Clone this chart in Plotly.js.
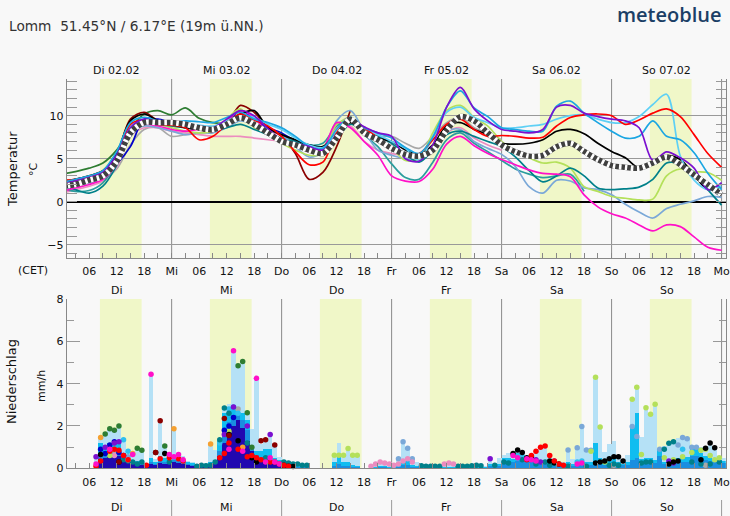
<!DOCTYPE html>
<html><head><meta charset="utf-8">
<script src="https://cdn.plot.ly/plotly-3.0.1.min.js"></script>
<style>html,body{margin:0;padding:0;background:#f8f8f8;}#chart{width:730px;height:516px;}</style>
</head><body><div id="chart"></div>
<script>
// ---------- labels ----------
const dayNames = ['Di','Mi','Do','Fr','Sa','So','Mo'];
const dayHeads = ['Di 02.02','Mi 03.02','Do 04.02','Fr 05.02','Sa 06.02','So 07.02'];
const titleText = 'Lomm\u00a0\u00a051.45°N / 6.17°E (19m ü.NN.)';

// ---------- temperature (°C), every 3 h from Di 00:00 ----------
const tMean = [1.8,2.0,2.5,3.0,4.7,8.0,9.2,9.2, 9.2,9.0,8.6,8.4,9.0,9.75,9.0,8.0, 7.0,6.6,6.0,5.6,7.4,9.6,8.0,7.2, 6.2,5.5,5.3,6.0,8.3,9.9,9.4,8.0, 6.6,5.8,5.3,5.4,6.4,6.8,5.85,4.9, 4.2,4.0,3.9,4.5,5.2,4.3,3.1,2.0, 0.8];
const tRed = [2.4,2.6,2.9,3.4,5.2,9.0,9.5,9.0, 8.9,8.6,7.2,7.6,9.0,10.2,9.5,8.8, 7.6,5.8,4.3,4.6,8.0,9.6,8.6,7.4, 6.2,5.5,5.6,7.2,9.0,9.6,8.4,7.6, 7.7,7.6,7.4,7.5,8.8,9.8,10.1,10.2, 10.0,9.0,9.5,10.3,10.8,9.9,7.8,5.6, 4.0];
const tPurple = [2.0,2.4,2.8,3.4,5.4,8.6,9.6,9.3, 9.1,9.0,8.8,8.6,9.6,10.6,10.0,8.5, 7.2,6.8,6.4,6.0,7.8,9.5,8.7,8.0, 7.6,5.0,4.7,6.6,11.0,13.3,10.8,9.4, 8.4,8.2,8.0,8.4,11.0,11.2,10.3,9.9, 9.6,9.4,8.6,4.8,5.8,5.1,3.9,1.4, 2.2];
const tSky = [2.2,2.6,3.0,3.6,5.8,9.2,9.8,9.4, 9.2,9.4,9.3,9.2,9.8,10.4,9.6,9.2, 8.6,7.6,6.4,6.2,8.4,9.8,8.6,8.0, 7.4,6.3,5.6,7.5,11.0,12.9,10.9,9.9, 8.6,8.4,8.2,8.2,11.1,11.7,10.3,9.2, 8.2,7.4,7.6,9.4,7.6,7.2,5.7,3.3, 1.4];
const tLightCyan = [1.6,2.0,2.5,3.2,5.0,8.8,9.4,9.2, 9.3,9.1,8.9,8.8,9.4,10.0,9.8,9.0, 8.4,7.4,6.6,6.3,8.0,9.4,8.6,7.8, 7.0,6.2,4.8,7.6,10.4,11.0,9.8,9.2, 8.6,8.6,8.8,9.0,9.6,10.0,10.1,9.6, 9.2,9.2,9.9,11.3,12.5,5.3,2.5,1.4, 1.8];
const tBlack = [2.2,2.6,3.0,3.6,5.6,9.4,10.2,9.4, 9.0,8.6,8.4,8.2,9.2,10.2,10.6,8.6, 7.8,7.2,6.6,6.4,8.0,9.2,8.2,7.4, 7.0,6.0,5.5,6.6,8.8,9.2,8.4,7.8, 6.8,6.7,6.8,7.2,8.2,8.4,7.9,6.8, 5.85,5.1,3.9,4.3,5.35,4.9,3.1,1.4, 1.8];
const tTeal = [2.0,1.4,1.0,1.8,4.2,7.6,9.0,9.0, 8.8,8.6,8.4,8.2,8.6,9.0,8.4,7.8, 7.2,7.0,6.6,6.4,7.4,9.0,8.2,7.6, 6.8,5.5,4.6,6.0,7.8,8.2,7.6,7.0, 6.4,5.2,3.6,2.3,3.0,3.9,3.0,1.6, 1.4,1.5,1.7,2.6,4.5,4.4,3.4,1.4, -0.4];
const tMagenta = [1.2,1.6,2.0,2.6,4.4,8.2,9.0,8.8, 8.4,8.2,8.4,8.2,9.4,10.6,9.8,8.0, 7.2,6.6,5.8,6.2,9.2,8.6,7.0,5.4, 3.0,2.4,2.35,3.8,6.7,7.6,6.5,5.6, 4.9,4.3,3.7,3.3,3.2,2.9,0.8,-0.6, -1.4,-1.9,-2.7,-3.4,-2.7,-2.9,-4.1,-5.3, -5.65];
const tSteel = [1.4,1.8,2.2,2.8,4.6,8.0,8.8,8.6, 8.2,7.8,8.0,8.0,8.6,9.4,9.0,8.4, 7.8,6.4,5.2,5.8,9.4,10.6,8.2,6.0, 5.4,5.0,5.0,6.4,8.2,8.4,7.0,6.2, 5.5,4.1,1.75,1.0,2.5,2.4,1.6,1.4, 0.8,-0.3,-1.2,-1.9,-0.8,-0.3,0.1,0.6, 0.5];
const tYellowGreen = [1.6,2.0,2.4,2.8,4.6,8.4,9.2,9.0, 8.6,8.2,8.0,8.2,9.6,10.8,8.6,7.8, 6.8,6.0,5.4,5.6,9.0,9.6,8.0,7.0, 6.2,4.8,5.0,8.0,10.6,11.2,9.8,8.8, 7.0,5.85,5.1,4.5,4.6,3.9,1.75,1.2, 0.6,0.4,0.2,0.3,3.0,3.8,3.5,3.4, 2.5];
const tTeal2 = [1.6,1.2,1.3,2.2,4.6,8.0,9.0,9.2, 9.0,8.6,8.4,8.4,9.2,9.6,8.8,8.0, 7.4,7.2,6.6,6.8,8.8,9.4,7.8,6.4, 4.4,2.8,2.6,4.6,7.2,8.0,6.8,5.8, 4.8,3.8,3.2,2.8,3.0,3.2,1.2,null, null,null,null,null,null,null,null,null, null];
const tPink = [1.0,1.4,1.8,2.4,4.0,7.6,8.6,8.6, 8.2,8.0,7.8,7.6,7.6,7.6,7.4,7.2, 7.0,6.4,6.0,6.2,8.6,8.8,7.0,6.0, 5.6,5.4,5.2,6.0,8.0,8.6,7.4,6.6, 6.0,null,null,null,null,null,null,null, null,null,null,null,null,null,null,null, null];
const tGray = [1.4,1.8,2.2,2.6,3.8,6.6,8.4,8.6, 7.6,7.8,8.0,8.4,9.0,9.6,8.8,8.4, 7.8,6.8,6.0,6.0,8.8,9.8,8.4,7.6, 7.6,6.8,6.2,7.6,9.2,9.8,8.6,8.0, 7.2,null,null,null,null,null,null,null, null,null,null,null,null,null,null,null, null];
const tDarkGreen = [3.2,3.5,3.9,4.5,6.0,8.4,10.2,10.6, 10.1,10.9,9.7,9.2,9.2,10.0,9.0,8.4, 7.8,6.9,6.4,null,null,null,null,null, null,null,null,null,null,null,null,null, null,null,null,null,null,null,null,null, null,null,null,null,null,null,null,null, null];
const tDarkRed = [2.6,2.4,2.6,3.2,5.4,9.6,10.4,9.4, 9.0,8.8,8.4,8.2,9.0,11.2,10.4,8.6, 7.6,5.6,2.6,3.4,6.4,10.6,null,null, null,null,null,null,null,null,null,null, null,null,null,null,null,null,null,null, null,null,null,null,null,null,null,null, null];
const tBlue = [2.2,2.6,2.9,3.2,4.4,6.4,9.6,9.6, 9.2,9.0,8.8,8.6,9.2,10.6,9.6,8.6, 8.0,7.0,6.0,null,null,null,null,null, null,null,null,null,null,null,null,null, null,null,null,null,null,null,null,null, null,null,null,null,null,null,null,null, null];
const tOrange = [2.4,2.6,3.0,3.6,5.0,8.4,9.4,9.0, 8.8,8.6,8.4,8.4,9.2,10.2,9.2,8.4, null,null,null,null,null,null,null,null, null,null,null,null,null,null,null,null, null,null,null,null,null,null,null,null, null,null,null,null,null,null,null,null, null];

// ---------- precipitation (mm/h), hourly from Di 00:00 ----------
const pMax = [0,0,0,0,0,0,0,0.55,1.5,1.65,1.87,1.8,2.0,1.35,0.65,0.65,0.95,0.85,0.15,4.45,0.45,2.25,1.05,0.65,
 1.87,0.65,0.6,0.35,0.3,0.2,0.15,0.25,1.15,0.85,1.35,2.85,3.05,5.55,4.85,5.05,2.65,1.85,4.25,1.15,1.3,1.65,1.15,0.55,
 0.3,0.2,0.2,0.15,0.15,0.1,0,0,0,0,0,0.65,1.2,0.65,0.95,0.62,0.62,0,0,0.1,0.2,0.3,0.25,0.2,
 0.15,0.45,1.25,0.95,0.45,0.3,0.15,0.1,0.1,0.1,0.1,0.2,0.25,0.2,0.1,0.1,0.1,0.15,0.15,0.15,0.1,0.5,0.15,0.5,
 0.65,0.7,0.72,0.9,0.8,0.6,0.65,0.85,1.0,1.05,0.6,0.45,0.3,0.3,0.87,0.45,0.97,1.97,0.87,0.85,4.3,1.95,0.75,1.15,
 1.3,0.6,0.4,0.65,3.3,3.8,1.5,2.9,2.55,3.05,0.9,1.05,1.25,1.3,1.45,1.4,1.4,1.0,1.0,1.0,1.05,1.2,0.95,0.55,
 0.5];
const pSky = [0,0,0,0,0,0,0,0.3,1.2,1.0,1.2,1.3,1.2,0.7,0.5,0.4,0.35,0.3,0.1,0.5,0.3,0.6,0.5,0.4,
 0.6,0.5,0.4,0.3,0.25,0.15,0.1,0.2,0.3,0.4,1.3,2.6,2.9,2.9,2.8,2.6,2.3,1.0,0.8,0.8,0.9,0.9,0.5,0.4,
 0.2,0.1,0.1,0.1,0.1,0.1,0,0,0,0,0,0.3,0.55,0.3,0.3,0.15,0.1,0,0,0,0.05,0.1,0.1,0.05,
 0.05,0.15,0.3,0.35,0.15,0.1,0.05,0.05,0.05,0.05,0.05,0.05,0.05,0.05,0.05,0.05,0.05,0.05,0.05,0.05,0.05,0.2,0.1,0.2,
 0.5,0.5,0.45,0.5,0.5,0.45,0.4,0.4,0.35,0.3,0.25,0.2,0.15,0.15,0.3,0.2,0.35,0.4,0.3,0.3,1.2,0.5,0.3,0.35,
 0.5,0.3,0.2,0.3,1.97,2.6,0.45,0.5,0.5,0.4,0.85,0.3,0.3,0.5,0.5,0.5,0.55,0.95,0.95,0.7,0.6,0.5,0.45,0.4,
 0.35];
const pMid = [0,0,0,0,0,0,0,0.2,0.6,0.6,0.7,0.8,0.7,0.45,0.35,0.3,0.25,0.2,0.05,0.3,0.2,0.35,0.3,0.25,
 0.4,0.35,0.25,0.2,0.15,0.1,0.05,0.12,0.2,0.3,0.8,1.7,2.2,2.5,2.6,2.3,1.8,0.9,0.65,0.55,0.55,0.5,0.3,0.2,
 0.1,0.05,0.05,0.05,0.05,0.05,0,0,0,0,0,0.1,0.2,0.1,0.1,0.05,0.05,0,0,0,0,0.05,0.05,0,
 0,0.05,0.15,0.15,0.05,0.05,0,0,0,0,0,0,0,0,0,0,0,0,0,0,0,0.1,0.05,0.1,
 0.3,0.35,0.3,0.35,0.35,0.3,0.3,0.3,0.25,0.2,0.15,0.1,0.1,0.1,0.15,0.1,0.15,0.2,0.15,0.15,0.35,0.3,0.15,0.2,
 0.25,0.2,0.15,0.15,0.4,0.5,0.25,0.3,0.3,0.25,0.6,0.2,0.2,0.25,0.3,0.3,0.3,0.6,0.6,0.5,0.4,0.35,0.3,0.3,
 0.25];
const pLow = [0,0,0,0,0,0,0,0.15,0.45,0.5,0.6,0.65,0.6,0.4,0.3,0.25,0.2,0.15,0.05,0.2,0.15,0.25,0.2,0.2,
 0.3,0.25,0.2,0.15,0.12,0.08,0.04,0.08,0.12,0.25,0.6,1.2,1.6,2.0,2.3,1.9,1.3,0.8,0.55,0.45,0.4,0.3,0.2,0.12,
 0.05,0.03,0.03,0.03,0.03,0.03,0,0,0,0,0,0,0,0,0,0,0,0,0,0,0,0,0,0,
 0,0,0,0,0,0,0,0,0,0,0,0,0,0,0,0,0,0,0,0,0,0,0,0,
 0,0,0,0,0,0,0,0,0,0,0,0,0,0,0,0,0,0,0,0,0,0,0,0,
 0,0,0,0,0,0,0,0,0,0,0,0,0,0,0,0,0,0,0,0,0,0,0,0,
 0];

// model dots: hour of the interval and value
const dGreenH = [9,10,11,12,16,17,22,38,39,40,41];
const dGreenV = [1.62,1.87,1.8,2.0,0.95,0.85,1.05,4.85,5.05,2.63,1.0];
const dTealH = [13,14,15,16,17,23,29,30,31,32,33,34,35,36,40,41,44,48,49,50,51,52,53,78,79,80,81,82,86,87,88,89,90,91,94,96,97,100,103,105,106,110,114,119,120,121,126,127,128,131,132,133,137,139,141,143];
const dTealV = [0.4,0.35,0.3,0.2,0.3,0.3,0.1,0.15,0.12,0.15,0.3,1.35,2.85,2.6,1.2,0.6,0.5,0.3,0.25,0.2,0.2,0.15,0.15,0.12,0.1,0.1,0.1,0.1,0.1,0.1,0.1,0.12,0.15,0.12,0.15,0.3,0.25,0.4,0.2,0.3,0.15,0.1,0.1,0.15,0.2,0.15,0.25,0.3,0.3,0.9,1.18,1.26,0.3,0.2,0.2,0.3];
const dMagentaH = [7,10,15,19,23,24,25,26,36,37,39,42,44,45,46,47,98,99,101,102,103,112,113];
const dMagentaV = [0.2,0.9,0.65,4.45,0.65,0.55,0.65,0.4,0.9,5.55,0.8,4.25,0.3,0.5,0.3,0.2,0.6,0.5,0.45,0.4,0.35,0.2,0.25];
const dOrangeH = [8,15,24,32,39];
const dOrangeV = [1.45,0.7,1.87,1.15,1.0];
const dDarkRedH = [12,20,21,35,36,43,44,46];
const dDarkRedV = [0.3,0.75,2.25,2.35,1.55,1.3,1.35,1.1];
const dRedH = [7,8,10,11,12,13,14,18,21,23,25,26,34,35,36,38,40,41,42,43,45,46,47,48,49,101,102,103,104,105,106,107,108,109];
const dRedV = [0.1,0.35,0.8,0.9,0.85,0.6,0.4,0.15,0.45,0.5,0.45,0.35,0.5,0.7,1.2,0.9,0.55,0.6,0.5,0.4,0.3,0.3,0.2,0.15,0.1,0.4,0.6,0.8,1.0,1.05,0.6,0.35,0.2,0.15];
const dBlackH = [8,12,20,22,36,38,41,42,48,49,50,98,99,100,101,102,106,107,108,116,117,118,119,120,121,122,132,133,134,139,140,141,142];
const dBlackV = [0.65,0.3,0.75,0.7,1.6,1.3,0.5,0.3,0.15,0.1,0.08,0.7,0.87,0.75,0.5,0.55,0.35,0.25,0.2,0.25,0.3,0.35,0.45,0.55,0.55,0.35,0.2,0.3,0.35,0.4,0.95,1.2,0.97];
const dPurpleH = [7,9,11,12,35,37,40,45,93,103,104,107,132,133];
const dPurpleV = [0.55,1.0,1.2,1.25,1.6,2.9,2.0,1.6,0.45,0.4,0.3,0.35,0.35,0.25];
const dYellowGreenH = [10,36,59,60,61,62,63,64,115,116,117,118,124,125,126,127,128,129,131,133,135,137,139,140,141,142,143];
const dYellowGreenV = [0.6,1.75,0.62,0.62,0.62,0.93,0.62,0.62,0.8,4.3,1.95,0.3,3.26,3.83,0.65,2.86,2.55,3.03,0.5,0.4,0.55,0.75,0.85,0.9,0.6,0.4,0.5];
const dSteelH = [13,14,73,74,75,76,110,112,113,114,115,124,125,130,134,135,136,137,138];
const dSteelV = [0.6,0.55,0.45,1.25,0.95,0.45,0.87,0.97,1.97,0.87,0.85,1.97,1.5,0.9,1.1,1.45,1.4,1.0,1.0];
const dPinkH = [10,11,14,67,68,69,70,71,72,73,74,75,76,83,84,85];
const dPinkV = [0.9,0.6,0.4,0.1,0.2,0.3,0.25,0.2,0.15,0.2,0.35,0.45,0.3,0.2,0.25,0.2];
const dSkyH = [13,14,34,36,37,38,99,100,112,113,135];
const dSkyV = [1.35,0.8,1.2,2.8,2.9,2.6,0.6,0.55,0.3,0.35,0.9];
const dBlueH = [8,9,10,11,12,13,35,36,37];
const dBlueV = [0.9,0.7,1.1,1.25,0.75,0.6,1.8,2.0,2.4];
const dGrayH = [11,38,120,140];
const dGrayV = [0.8,2.8,0.15,0.15];

// ---------- build ----------
const W = 730, H = 516;
const hours3 = tMean.map((_, i) => i * 3);
const hoursP = pMax.map((_, i) => i + 0.5);
const tickVals = Array.from({length: 24}, (_, i) => (i + 1) * 6);
const tickText = tickVals.map(h => h % 24 === 0 ? dayNames[h / 24] : String(h % 24).padStart(2, '0'));
const minorVals = Array.from({length: 49}, (_, i) => i * 3);
const xDom = [66.7 / W, 725.7 / W];
const py = px => 1 - px / H;

const traces = [];
function tline(y, color, w) {
  traces.push({x: hours3, y: y, type: 'scatter', mode: 'lines', xaxis: 'x', yaxis: 'y',
    line: {color: color, width: w || 1.7, shape: 'spline', smoothing: 0.9}, hoverinfo: 'skip', connectgaps: false});
}
tline(tGray, '#a8a8a8');
tline(tPink, '#ec8cbf');
tline(tOrange, '#f5a030');
tline(tBlue, '#0000cc');
tline(tDarkGreen, '#2e7d32');
tline(tDarkRed, '#8b0000');
tline(tTeal2, '#2a9d9d');
tline(tSteel, '#7aa8d8');
tline(tYellowGreen, '#b4e05a');
tline(tTeal, '#00808a');
tline(tMagenta, '#ff10c8');
tline(tBlack, '#000000');
tline(tLightCyan, '#5fd0f5');
tline(tRed, '#ff0000');
tline(tSky, '#1ba6e2');
tline(tPurple, '#7b10d0');
traces.push({x: hours3, y: tMean, type: 'scatter', mode: 'lines', xaxis: 'x', yaxis: 'y',
  line: {color: '#404040', width: 5.5, shape: 'spline', smoothing: 0.9}, hoverinfo: 'skip'});
traces.push({x: hours3, y: tMean, type: 'scatter', mode: 'lines', xaxis: 'x', yaxis: 'y',
  line: {color: '#ffffff', width: 5.5, shape: 'spline', smoothing: 0.9, dash: '2.5px,3.5px'}, hoverinfo: 'skip'});

function pbar(y, color) {
  traces.push({x: hoursP, y: y, type: 'bar', width: 1, xaxis: 'x2', yaxis: 'y2',
    marker: {color: color, line: {width: 0}}, hoverinfo: 'skip'});
}
pbar(pMax, '#b5e1f6');
pbar(pSky, '#10bdf0');
pbar(pMid, '#1a8ee0');
pbar(pLow, '#2108b0');

function pdots(hs, vs, color) {
  traces.push({x: hs.map(h => h + 0.5), y: vs, type: 'scatter', mode: 'markers', xaxis: 'x2', yaxis: 'y2',
    marker: {color: color, size: 5.5}, cliponaxis: false, hoverinfo: 'skip'});
}
pdots(dGrayH, dGrayV, '#a8a8a8');
pdots(dSteelH, dSteelV, '#7aa8d8');
pdots(dSkyH, dSkyV, '#2ec0f0');
pdots(dTealH, dTealV, '#00808a');
pdots(dPinkH, dPinkV, '#ec8cbf');
pdots(dYellowGreenH, dYellowGreenV, '#b4e05a');
pdots(dBlueH, dBlueV, '#0000cc');
pdots(dPurpleH, dPurpleV, '#7b10d0');
pdots(dOrangeH, dOrangeV, '#f5a030');
pdots(dGreenH, dGreenV, '#2e7d32');
pdots(dBlackH, dBlackV, '#000000');
pdots(dRedH, dRedV, '#ff0000');
pdots(dDarkRedH, dDarkRedV, '#8b0000');
pdots(dMagentaH, dMagentaV, '#ff10c8');

// shapes
const shapes = [];
for (let d = 0; d < 6; d++) {
  ['', '2'].forEach(s => shapes.push({type: 'rect', xref: 'x' + s, yref: 'y' + s + ' domain',
    x0: 24 * d + 8.35, x1: 24 * d + 17.45, y0: 0, y1: 1, fillcolor: '#f0f7c8', line: {width: 0}, layer: 'below'}));
}
for (let d = 1; d <= 6; d++) {
  ['', '2'].forEach(s => shapes.push({type: 'line', xref: 'x' + s, yref: 'y' + s + ' domain',
    x0: 24 * d, x1: 24 * d, y0: 0, y1: 1, line: {color: '#8a8a8a', width: 1}, layer: 'below'}));
  shapes.push({type: 'line', xref: 'x2', yref: 'paper', x0: 24 * d, x1: 24 * d, y0: 0, y1: 16 / H,
    line: {color: '#9a9a9a', width: 1}, layer: 'below'});
}

// annotations
const F = 'DejaVu Sans';
const ann = [];
function note(o) { ann.push(Object.assign({showarrow: false, xanchor: 'center', yanchor: 'middle'}, o)); }
note({xref: 'paper', yref: 'paper', x: 7 / W, y: py(26), xanchor: 'left',
  text: titleText, font: {family: F, size: 13.7, color: '#333'}});
note({xref: 'paper', yref: 'paper', x: 724 / W, y: py(14), xanchor: 'right',
  text: 'meteoblue', font: {family: 'Open Sans', size: 20, color: '#1b3f66', weight: 600}});
for (let d = 0; d < 6; d++) {
  note({xref: 'x', yref: 'paper', x: 24 * d + 12, y: py(70), text: dayHeads[d], font: {family: F, size: 11, color: '#111'}});
  note({xref: 'x', yref: 'paper', x: 24 * d + 12, y: py(290), text: dayNames[d], font: {family: F, size: 11, color: '#111'}});
  note({xref: 'x2', yref: 'paper', x: 24 * d + 12, y: py(507), text: dayNames[d], font: {family: F, size: 11, color: '#111'}});
}
note({xref: 'paper', yref: 'paper', x: 33 / W, y: py(270), text: '(CET)', font: {family: F, size: 11, color: '#111'}});
note({xref: 'paper', yref: 'paper', x: 12 / W, y: py(169), textangle: -90, text: 'Temperatur', font: {family: F, size: 13, color: '#111'}});
note({xref: 'paper', yref: 'paper', x: 33 / W, y: py(169), textangle: -90, text: '°C', font: {family: F, size: 11, color: '#111'}});
note({xref: 'paper', yref: 'paper', x: 11 / W, y: py(382), textangle: -90, text: 'Niederschlag', font: {family: F, size: 13, color: '#111'}});
note({xref: 'paper', yref: 'paper', x: 41 / W, y: py(386), textangle: -90, text: 'mm/h', font: {family: F, size: 11, color: '#111'}});

const xCommon = {domain: xDom, range: [1.1, 144.9], tickmode: 'array', tickvals: tickVals, ticktext: tickText,
  ticks: 'inside', ticklen: 5, tickcolor: '#888', showline: true, linecolor: '#888', linewidth: 1,
  showgrid: false, zeroline: false, fixedrange: true, tickfont: {family: F, size: 11, color: '#111'},
  ticklabelstandoff: 3,
  minor: {tickmode: 'array', tickvals: minorVals, ticks: 'inside', ticklen: 5, tickcolor: '#888', showgrid: false}};

const layout = {
  width: W, height: H, margin: {l: 0, r: 0, t: 0, b: 0},
  paper_bgcolor: '#f8f8f8', plot_bgcolor: '#f8f8f8', showlegend: false, barmode: 'overlay', bargap: 0,
  font: {family: F, size: 11, color: '#111'},
  xaxis: Object.assign({}, xCommon, {anchor: 'y'}),
  xaxis2: Object.assign({}, xCommon, {anchor: 'y2'}),
  yaxis: {domain: [py(258), py(79)], range: [-6.55, 14.27], tickmode: 'linear', tick0: 0, dtick: 5,
    ticks: 'inside', ticklen: 10, tickcolor: '#999', showline: true, linecolor: '#888', mirror: 'ticks',
    showgrid: true, gridcolor: '#999', gridwidth: 1, zeroline: true, zerolinecolor: '#000', zerolinewidth: 2,
    fixedrange: true, tickfont: {family: F, size: 11, color: '#111'}, anchor: 'x',
    minor: {tickmode: 'linear', tick0: 0, dtick: 1, ticks: 'inside', ticklen: 10, tickcolor: '#999', showgrid: false}},
  yaxis2: {domain: [py(468.3), py(299)], range: [0, 8], tickmode: 'linear', tick0: 0, dtick: 2,
    ticks: 'inside', ticklen: 13, tickcolor: '#999', showline: true, linecolor: '#888', mirror: 'ticks',
    showgrid: false, zeroline: false, fixedrange: true, tickfont: {family: F, size: 11, color: '#111'}, anchor: 'x2',
    minor: {tickmode: 'linear', tick0: 0, dtick: 1, ticks: 'inside', ticklen: 7, tickcolor: '#999', showgrid: false}},
  shapes: shapes, annotations: ann
};

Plotly.newPlot('chart', traces, layout, {staticPlot: true, displayModeBar: false});
</script></body></html>
